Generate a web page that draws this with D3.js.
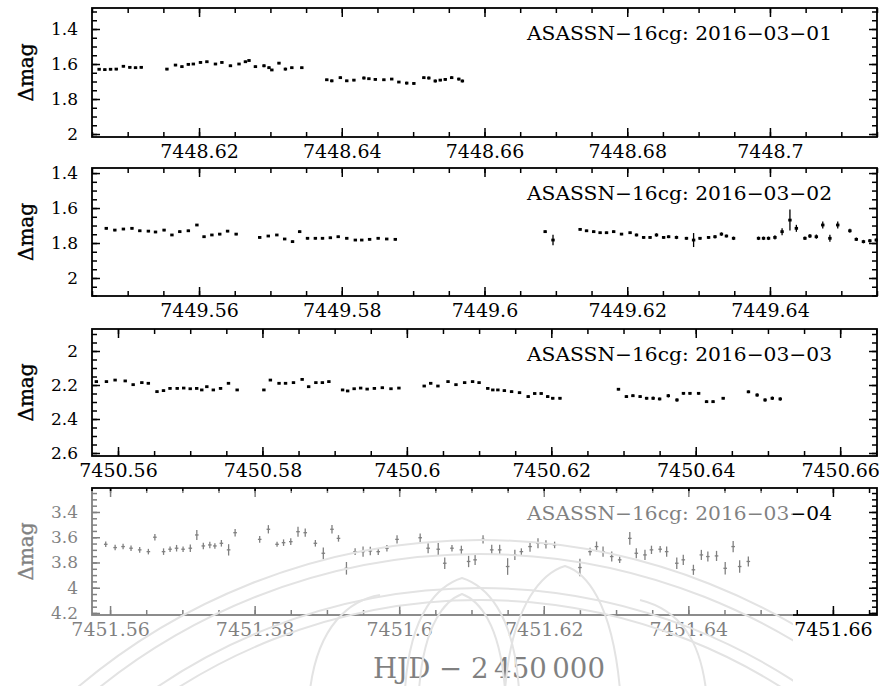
<!DOCTYPE html>
<html>
<head>
<meta charset="utf-8">
<script src="https://cdn.jsdelivr.net/npm/d3@7"></script>
<style>
  body { margin: 0; background: #fff; }
  svg { display: block; }
</style>
</head>
<body>
<svg id="chart" width="879" height="686"></svg>
<script>
// ---- Light curves of ASASSN-16cg, four nights (HJD - 2450000, differential magnitude) ----

// 2016-03-01
const p1Time = [7448.6060,7448.6068,7448.6076,7448.6084,7448.6094,7448.6103,7448.6111,7448.6119,
  7448.6155,7448.6167,7448.6176,7448.6185,7448.6192,7448.6202,7448.6211,7448.6223,7448.6232,7448.6244,7448.6256,7448.6265,7448.6270,7448.6279,7448.6291,7448.6298,7448.6302,7448.6312,7448.6321,7448.6330,7448.6344,
  7448.6379,7448.6386,7448.6398,7448.6407,7448.6417,7448.6431,7448.6438,7448.6447,7448.6459,7448.6470,7448.6480,7448.6491,7448.6501,7448.6515,7448.6522,7448.6531,7448.6538,7448.6545,7448.6554,7448.6564,7448.6569];
const p1Mag = [1.630,1.632,1.630,1.629,1.613,1.619,1.621,1.619,
  1.629,1.606,1.615,1.602,1.600,1.591,1.587,1.600,1.591,1.610,1.600,1.587,1.580,1.615,1.610,1.621,1.634,1.595,1.629,1.621,1.621,
  1.690,1.696,1.678,1.696,1.692,1.680,1.684,1.688,1.690,1.686,1.703,1.709,1.711,1.678,1.680,1.697,1.692,1.688,1.678,1.686,1.697];
const p1Err = [0.006,0.006,0.006,0.006,0.006,0.006,0.006,0.006,
  0.006,0.006,0.006,0.006,0.006,0.006,0.006,0.006,0.006,0.006,0.006,0.006,0.006,0.006,0.008,0.008,0.006,0.006,0.008,0.006,0.006,
  0.006,0.008,0.006,0.006,0.006,0.008,0.006,0.006,0.006,0.006,0.006,0.008,0.008,0.006,0.008,0.008,0.006,0.008,0.008,0.008,0.008];

// 2016-03-02
const p2Time = [7449.5470,7449.5482,7449.5494,7449.5506,7449.5517,7449.5529,7449.5539,7449.5551,7449.5562,7449.5573,7449.5585,7449.5597,7449.5607,7449.5618,7449.5629,7449.5640,7449.5652,
  7449.5685,7449.5697,7449.5709,7449.5720,7449.5731,7449.5741,7449.5752,7449.5763,7449.5773,7449.5784,7449.5795,7449.5807,7449.5819,7449.5828,7449.5839,7449.5851,7449.5863,7449.5875,
  7449.6085,7449.6096,
  7449.6134,7449.6143,7449.6153,7449.6162,7449.6171,7449.6181,7449.6192,7449.6204,7449.6213,7449.6223,7449.6232,7449.6241,7449.6251,7449.6258,7449.6269,7449.6283,7449.6293,7449.6302,7449.6314,7449.6323,7449.6332,7449.6339,7449.6349,
  7449.6384,7449.6391,7449.6398,7449.6407,7449.6417,7449.6428,7449.6437,7449.6449,7449.6456,7449.6465,7449.6474,7449.6484,7449.6495,7449.6512,7449.6521,7449.6531,7449.6540,7449.6549];
const p2Mag = [1.716,1.726,1.720,1.716,1.730,1.732,1.737,1.726,1.754,1.735,1.730,1.697,1.764,1.754,1.749,1.732,1.749,
  1.768,1.760,1.754,1.777,1.792,1.735,1.773,1.773,1.773,1.770,1.764,1.773,1.783,1.783,1.779,1.773,1.777,1.779,
  1.735,1.783,
  1.722,1.730,1.735,1.741,1.741,1.735,1.749,1.741,1.754,1.768,1.768,1.754,1.768,1.764,1.768,1.773,1.783,1.773,1.768,1.764,1.749,1.760,1.773,
  1.773,1.773,1.773,1.768,1.735,1.669,1.716,1.773,1.760,1.764,1.697,1.773,1.697,1.730,1.779,1.792,1.787,1.783];
const p2Err = [0.006,0.006,0.006,0.006,0.006,0.006,0.006,0.006,0.006,0.006,0.006,0.006,0.006,0.006,0.006,0.006,0.006,
  0.006,0.006,0.006,0.006,0.006,0.006,0.006,0.006,0.006,0.006,0.006,0.006,0.006,0.006,0.006,0.006,0.006,0.006,
  0.008,0.030,
  0.006,0.006,0.006,0.006,0.006,0.006,0.006,0.006,0.008,0.008,0.008,0.010,0.008,0.008,0.010,0.008,0.040,0.008,0.008,0.010,0.010,0.008,0.010,
  0.010,0.010,0.010,0.012,0.020,0.060,0.020,0.010,0.012,0.012,0.020,0.020,0.020,0.012,0.010,0.010,0.010,0.010];

// 2016-03-03
const p3Time = [7450.5570,7450.5584,7450.5596,7450.5610,7450.5621,7450.5633,7450.5642,7450.5654,7450.5663,7450.5672,7450.5682,7450.5691,7450.5700,7450.5709,7450.5716,7450.5723,7450.5732,7450.5742,7450.5753,7450.5765,
  7450.5802,7450.5811,7450.5823,7450.5832,7450.5843,7450.5855,7450.5864,7450.5874,7450.5883,7450.5892,7450.5911,7450.5918,7450.5927,7450.5936,7450.5945,7450.5955,7450.5966,7450.5978,7450.5989,
  7450.6024,7450.6033,7450.6043,7450.6057,7450.6068,7450.6080,7450.6091,7450.6100,7450.6112,7450.6119,7450.6126,7450.6135,7450.6145,7450.6156,7450.6168,7450.6177,7450.6186,7450.6195,7450.6202,7450.6212,
  7450.6293,7450.6304,7450.6313,7450.6323,7450.6332,7450.6341,7450.6350,7450.6362,7450.6374,7450.6383,7450.6392,7450.6404,7450.6415,7450.6424,7450.6438,
  7450.6473,7450.6485,7450.6496,7450.6506,7450.6517];
const p3Mag = [2.180,2.180,2.171,2.176,2.198,2.186,2.190,2.239,2.233,2.220,2.220,2.218,2.222,2.220,2.229,2.210,2.229,2.220,2.190,2.229,
  2.229,2.171,2.190,2.190,2.186,2.167,2.210,2.186,2.186,2.180,2.229,2.235,2.222,2.218,2.224,2.220,2.216,2.222,2.218,
  2.206,2.190,2.206,2.180,2.198,2.186,2.180,2.186,2.220,2.229,2.229,2.233,2.239,2.245,2.268,2.250,2.250,2.268,2.278,2.278,
  2.225,2.268,2.263,2.268,2.278,2.278,2.282,2.263,2.288,2.249,2.249,2.249,2.298,2.298,2.278,
  2.240,2.259,2.288,2.278,2.282];
const p3Err = [0.005,0.005,0.005,0.005,0.005,0.005,0.005,0.006,0.006,0.005,0.005,0.005,0.005,0.005,0.005,0.005,0.005,0.006,0.005,0.006,
  0.006,0.005,0.005,0.005,0.005,0.005,0.005,0.005,0.005,0.005,0.006,0.006,0.005,0.005,0.005,0.005,0.005,0.005,0.005,
  0.005,0.006,0.005,0.005,0.005,0.005,0.005,0.005,0.005,0.006,0.005,0.006,0.006,0.006,0.008,0.006,0.006,0.008,0.008,0.008,
  0.006,0.008,0.008,0.008,0.008,0.010,0.008,0.010,0.010,0.008,0.008,0.008,0.008,0.008,0.008,
  0.008,0.010,0.010,0.010,0.010];

// 2016-03-04
const p4Time = [7451.5594,7451.5607,7451.5618,7451.5629,7451.5641,7451.5653,7451.5662,7451.5674,7451.5683,7451.5692,7451.5701,7451.5711,7451.5720,7451.5729,7451.5738,7451.5745,7451.5754,7451.5764,7451.5773,
  7451.5807,7451.5819,7451.5831,7451.5840,7451.5850,7451.5860,7451.5870,7451.5884,7451.5895,7451.5907,7451.5916,7451.5927,7451.5939,7451.5950,7451.5960,7451.5971,7451.5983,7451.5997,7451.6029,7451.6040,7451.6054,7451.6063,
  7451.6073,7451.6086,7451.6096,7451.6105,7451.6116,7451.6128,7451.6139,7451.6150,7451.6160,7451.6169,7451.6181,7451.6192,7451.6203,7451.6215,
  7451.6250,7451.6264,7451.6273,7451.6282,7451.6294,7451.6305,7451.6319,7451.6328,7451.6340,7451.6349,7451.6361,7451.6370,7451.6384,7451.6393,7451.6407,7451.6418,7451.6427,7451.6439,7451.6451,7451.6462,7451.6471,7451.6483];
const p4Mag = [3.656,3.682,3.674,3.687,3.700,3.714,3.600,3.714,3.695,3.687,3.695,3.687,3.582,3.669,3.661,3.669,3.648,3.700,3.564,
  3.617,3.537,3.656,3.643,3.635,3.556,3.564,3.648,3.727,3.537,3.609,3.846,3.714,3.714,3.709,3.714,3.687,3.617,3.604,3.687,3.695,3.806,
  3.687,3.700,3.792,3.779,3.617,3.700,3.700,3.832,3.740,3.714,3.674,3.648,3.656,3.661,
  3.840,3.714,3.674,3.714,3.753,3.779,3.609,3.727,3.740,3.700,3.695,3.714,3.806,3.779,3.858,3.740,3.753,3.748,3.846,3.674,3.832,3.792];
const p4Err = [0.022,0.022,0.022,0.022,0.022,0.022,0.026,0.026,0.022,0.026,0.022,0.030,0.040,0.026,0.026,0.022,0.026,0.045,0.030,
  0.026,0.033,0.020,0.026,0.026,0.040,0.033,0.026,0.045,0.033,0.026,0.050,0.026,0.040,0.033,0.026,0.026,0.033,0.033,0.040,0.050,0.045,
  0.026,0.033,0.045,0.040,0.033,0.040,0.040,0.066,0.040,0.026,0.040,0.040,0.033,0.026,
  0.070,0.030,0.040,0.040,0.040,0.026,0.050,0.040,0.040,0.033,0.026,0.040,0.045,0.040,0.040,0.040,0.040,0.040,0.050,0.045,0.050,0.040];

// Tick labels
const p1XTicks = [7448.62, 7448.64, 7448.66, 7448.68, 7448.70];
const p2XTicks = [7449.56, 7449.58, 7449.60, 7449.62, 7449.64];
const p3XTicks = [7450.56, 7450.58, 7450.60, 7450.62, 7450.64, 7450.66];
const p4XTicks = [7451.56, 7451.58, 7451.60, 7451.62, 7451.64, 7451.66];
const p1YTicks = [1.4, 1.6, 1.8, 2.0];
const p2YTicks = [1.4, 1.6, 1.8, 2.0];
const p3YTicks = [2.0, 2.2, 2.4, 2.6];
const p4YTicks = [3.4, 3.6, 3.8, 4.0, 4.2];

const nightLabels = ["ASASSN\u221216cg: 2016\u221203\u221201", "ASASSN\u221216cg: 2016\u221203\u221202",
                     "ASASSN\u221216cg: 2016\u221203\u221203", "ASASSN\u221216cg: 2016\u221203\u221204"];
const yTitle = "\u0394mag";
const xTitle = "HJD \u2212 2\u2009450\u2009000";

// ---- layout ----
const W = 879, H = 686;
const LEFT = 92, RIGHT = 877;
const FONT = "'DejaVu Serif', 'Liberation Serif', serif";

const panels = [
  { time: p1Time, mag: p1Mag, err: p1Err, xTicks: p1XTicks, yTicks: p1YTicks, label: nightLabels[0],
    xDomain: [7448.605, 7448.715], yDomain: [1.28, 2.017], top: 8, bottom: 137 },
  { time: p2Time, mag: p2Mag, err: p2Err, xTicks: p2XTicks, yTicks: p2YTicks, label: nightLabels[1],
    xDomain: [7449.545, 7449.655], yDomain: [1.371, 2.103], top: 168, bottom: 296 },
  { time: p3Time, mag: p3Mag, err: p3Err, xTicks: p3XTicks, yTicks: p3YTicks, label: nightLabels[2],
    xDomain: [7450.5564, 7450.6651], yDomain: [1.8706, 2.6176], top: 329, bottom: 456 },
  { time: p4Time, mag: p4Mag, err: p4Err, xTicks: p4XTicks, yTicks: p4YTicks, label: nightLabels[3],
    xDomain: [7451.5575, 7451.6661], yDomain: [3.21, 4.216], top: 488, bottom: 615, bars: true }
];

const fmt = d => String(+d.toFixed(2));
const svg = d3.select("#chart");
svg.append("rect").attr("width", W).attr("height", H).attr("fill", "#fff");

function styleAxis(sel, size) {
  sel.select(".domain").remove();
  sel.selectAll(".tick line").attr("stroke", "#000").attr("stroke-width", 1.5);
  sel.selectAll(".tick text").attr("fill", "#000").attr("font-family", FONT).attr("font-size", size);
}

panels.forEach(p => {
  const x = d3.scaleLinear().domain(p.xDomain).range([LEFT, RIGHT]);
  const y = d3.scaleLinear().domain(p.yDomain).range([p.top, p.bottom]);
  const g = svg.append("g");

  // minor ticks, all four sides
  const xMinor = x.ticks(22), yMinor = y.ticks(15);
  g.append("g").attr("transform", `translate(0,${p.bottom})`)
    .call(d3.axisBottom(x).tickValues(xMinor).tickSizeInner(-5).tickSizeOuter(0).tickFormat(""))
    .call(s => styleAxis(s, 0));
  g.append("g").attr("transform", `translate(0,${p.top})`)
    .call(d3.axisTop(x).tickValues(xMinor).tickSizeInner(-5).tickSizeOuter(0).tickFormat(""))
    .call(s => styleAxis(s, 0));
  g.append("g").attr("transform", `translate(${LEFT},0)`)
    .call(d3.axisLeft(y).tickValues(yMinor).tickSizeInner(-5).tickSizeOuter(0).tickFormat(""))
    .call(s => styleAxis(s, 0));
  g.append("g").attr("transform", `translate(${RIGHT},0)`)
    .call(d3.axisRight(y).tickValues(yMinor).tickSizeInner(-5).tickSizeOuter(0).tickFormat(""))
    .call(s => styleAxis(s, 0));

  // major ticks
  g.append("g").attr("transform", `translate(0,${p.bottom})`)
    .call(d3.axisBottom(x).tickValues(p.xTicks).tickSizeInner(-9).tickSizeOuter(0).tickPadding(8).tickFormat(fmt))
    .call(s => styleAxis(s, 19));
  g.append("g").attr("transform", `translate(0,${p.top})`)
    .call(d3.axisTop(x).tickValues(p.xTicks).tickSizeInner(-9).tickSizeOuter(0).tickFormat(""))
    .call(s => styleAxis(s, 0));
  g.append("g").attr("transform", `translate(${LEFT},0)`)
    .call(d3.axisLeft(y).tickValues(p.yTicks).tickSizeInner(-8).tickSizeOuter(0).tickPadding(14).tickFormat(fmt))
    .call(s => styleAxis(s, 17));
  g.append("g").attr("transform", `translate(${RIGHT},0)`)
    .call(d3.axisRight(y).tickValues(p.yTicks).tickSizeInner(-8).tickSizeOuter(0).tickFormat(""))
    .call(s => styleAxis(s, 0));

  // frame
  g.append("rect").attr("x", LEFT).attr("y", p.top)
    .attr("width", RIGHT - LEFT).attr("height", p.bottom - p.top)
    .attr("fill", "none").attr("stroke", "#000").attr("stroke-width", 1.8);

  // observations with error bars
  const pts = p.time.map((t, i) => ({ t, m: p.mag[i], e: p.err[i] }));
  g.append("g").selectAll("line").data(pts).join("line")
    .attr("x1", d => x(d.t)).attr("x2", d => x(d.t))
    .attr("y1", d => y(d.m - d.e)).attr("y2", d => y(d.m + d.e))
    .attr("stroke", "#000").attr("stroke-width", 1.3);
  if (p.bars) {
    g.append("g").selectAll("line").data(pts).join("line")
      .attr("x1", d => x(d.t) - 1.8).attr("x2", d => x(d.t) + 1.8)
      .attr("y1", d => y(d.m)).attr("y2", d => y(d.m))
      .attr("stroke", "#000").attr("stroke-width", 1.3);
  } else {
    g.append("g").selectAll("rect").data(pts).join("rect")
      .attr("x", d => x(d.t) - 1.7).attr("y", d => y(d.m) - 1.4)
      .attr("width", 3.4).attr("height", 2.8).attr("fill", "#000");
  }

  // night label
  g.append("text").attr("x", 527).attr("y", p.top + 32)
    .attr("font-family", FONT).attr("font-size", 19)
    .attr("textLength", 305).attr("lengthAdjust", "spacingAndGlyphs")
    .attr("fill", "#000").text(p.label);

  // y-axis title
  g.append("text")
    .attr("transform", `translate(33,${(p.top + p.bottom) / 2}) rotate(-90)`)
    .attr("text-anchor", "middle").attr("font-family", FONT).attr("font-size", 20)
    .attr("fill", "#000").attr("stroke", "#000").attr("stroke-width", 0.4).text(yTitle);
});

// x-axis title
svg.append("text").attr("x", 489).attr("y", 678).attr("text-anchor", "middle")
  .attr("font-family", FONT).attr("font-size", 28)
  .attr("textLength", 232).attr("lengthAdjust", "spacingAndGlyphs")
  .attr("fill", "#000").text(xTitle);

// faded lower-left area with the faint emblem printed over it
svg.append("rect").attr("x", 0).attr("y", 491).attr("width", 793).attr("height", H - 491)
  .attr("fill", "#fff").attr("opacity", 0.5);

const clip = svg.append("defs").append("clipPath").attr("id", "emblemClip");
clip.append("rect").attr("x", 0).attr("y", 491).attr("width", 793).attr("height", H - 491);
const emblem = svg.append("g").attr("clip-path", "url(#emblemClip)")
  .attr("fill", "none").attr("stroke", "#e3e3e3").attr("stroke-width", 2);
[623, 609, 575, 563].forEach(r => emblem.append("circle").attr("cx", 480).attr("cy", 1163).attr("r", r));
["M405,690 C410,610 440,585 462,578 C484,585 514,610 519,690",
 "M419,690 C424,622 446,600 462,594 C478,600 500,622 505,690",
 "M505,690 C512,600 545,572 565,566 C585,572 612,600 620,690",
 "M310,690 C318,625 350,600 380,595",
 "M640,600 C680,610 700,640 706,690"]
  .forEach(d => emblem.append("path").attr("d", d));
</script>
</body>
</html>
